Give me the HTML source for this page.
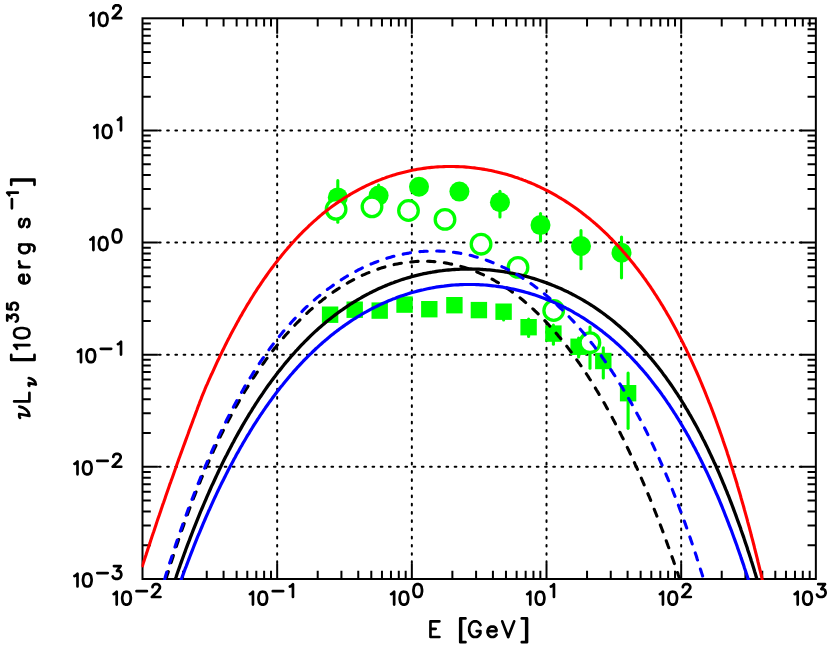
<!DOCTYPE html><html><head><meta charset="utf-8"><title>plot</title>
<style>html,body{margin:0;padding:0;background:#fff}svg{display:block}text{font-family:"Liberation Sans",sans-serif;fill:#000}</style></head><body>
<svg width="830" height="650" viewBox="0 0 830 650">
<rect width="830" height="650" fill="#fff"/>
<defs><clipPath id="c"><rect x="141.5" y="17.3" width="675.35" height="562.70"/></clipPath></defs>
<g stroke="#000" stroke-width="2" stroke-dasharray="1.7 6.515" stroke-linecap="round" fill="none">
<path d="M277.17,35.58 V564.60"/>
<path d="M158.93,130.44 H801.45"/>
<path d="M411.84,35.58 V564.60"/>
<path d="M158.93,242.58 H801.45"/>
<path d="M546.51,35.58 V564.60"/>
<path d="M158.93,354.72 H801.45"/>
<path d="M681.18,35.58 V564.60"/>
<path d="M158.93,466.86 H801.45"/>
</g>
<g fill="#00ff00" stroke="#00ff00" stroke-width="3.1">
<rect x="321.90" y="306.50" width="16.4" height="16.4" stroke="none"/>
<rect x="346.50" y="301.50" width="16.4" height="16.4" stroke="none"/>
<rect x="371.50" y="302.40" width="16.4" height="16.4" stroke="none"/>
<rect x="396.35" y="296.40" width="16.4" height="16.4" stroke="none"/>
<rect x="421.10" y="301.00" width="16.4" height="16.4" stroke="none"/>
<rect x="446.20" y="297.00" width="16.4" height="16.4" stroke="none"/>
<rect x="470.70" y="301.90" width="16.4" height="16.4" stroke="none"/>
<path d="M503.6,306.55 V319.95" stroke-linecap="round"/>
<rect x="495.40" y="303.50" width="16.4" height="16.4" stroke="none"/>
<path d="M528.6,319.15 V336.55" stroke-linecap="round"/>
<rect x="520.40" y="319.00" width="16.4" height="16.4" stroke="none"/>
<path d="M553.4,325.15 V344.15" stroke-linecap="round"/>
<rect x="545.20" y="325.40" width="16.4" height="16.4" stroke="none"/>
<path d="M578.6,338.05 V357.05" stroke-linecap="round"/>
<rect x="570.40" y="338.55" width="16.4" height="16.4" stroke="none"/>
<path d="M603.3,347.85 V377.95" stroke-linecap="round"/>
<rect x="595.10" y="352.80" width="16.4" height="16.4" stroke="none"/>
<path d="M628.1,373.05 V428.35" stroke-linecap="round"/>
<rect x="619.90" y="385.00" width="16.4" height="16.4" stroke="none"/>
<path d="M337.8,180.65 V222.25" stroke-linecap="round"/>
<circle cx="337.8" cy="197.4" r="10" stroke="none"/>
<path d="M378.6,185.15 V205.45" stroke-linecap="round"/>
<circle cx="378.6" cy="195.6" r="10" stroke="none"/>
<circle cx="419" cy="186.8" r="10" stroke="none"/>
<circle cx="459.4" cy="191.6" r="10" stroke="none"/>
<path d="M499.95,191.20 V217.05" stroke-linecap="round"/>
<circle cx="499.95" cy="202.3" r="10" stroke="none"/>
<path d="M540.5,213.45 V241.05" stroke-linecap="round"/>
<circle cx="540.5" cy="225.1" r="10" stroke="none"/>
<path d="M581.0,230.65 V268.75" stroke-linecap="round"/>
<circle cx="581.0" cy="246" r="10" stroke="none"/>
<path d="M621.5,237.05 V277.85" stroke-linecap="round"/>
<circle cx="621.5" cy="252.7" r="10" stroke="none"/>
<circle cx="336.1" cy="209.3" r="9.8" fill="#fff" stroke-width="3.3"/>
<circle cx="372" cy="206.8" r="9.8" fill="#fff" stroke-width="3.3"/>
<circle cx="408.5" cy="210.5" r="9.8" fill="#fff" stroke-width="3.3"/>
<circle cx="445" cy="219.4" r="9.8" fill="#fff" stroke-width="3.3"/>
<circle cx="481.05" cy="244.2" r="9.8" fill="#fff" stroke-width="3.3"/>
<circle cx="518" cy="267.4" r="9.8" fill="#fff" stroke-width="3.3"/>
<circle cx="553.7" cy="310.5" r="9.8" fill="#fff" stroke-width="3.3"/>
<path d="M590.0,326.95 V368.15" stroke-linecap="round"/>
<circle cx="589.9" cy="342.7" r="9.8" fill="#fff" stroke-width="3.3"/>
</g>
<g stroke="#000" stroke-width="2" fill="none">
<path d="M183.04,579.0 v-8.3 M183.04,18.3 v8.3 M142.5,545.24 h8.3 M815.85,545.24 h-8.3 M206.75,579.0 v-8.3 M206.75,18.3 v8.3 M142.5,525.50 h8.3 M815.85,525.50 h-8.3 M223.58,579.0 v-8.3 M223.58,18.3 v8.3 M142.5,511.48 h8.3 M815.85,511.48 h-8.3 M236.63,579.0 v-8.3 M236.63,18.3 v8.3 M142.5,500.62 h8.3 M815.85,500.62 h-8.3 M247.29,579.0 v-8.3 M247.29,18.3 v8.3 M142.5,491.74 h8.3 M815.85,491.74 h-8.3 M256.31,579.0 v-8.3 M256.31,18.3 v8.3 M142.5,484.23 h8.3 M815.85,484.23 h-8.3 M264.12,579.0 v-8.3 M264.12,18.3 v8.3 M142.5,477.73 h8.3 M815.85,477.73 h-8.3 M271.01,579.0 v-8.3 M271.01,18.3 v8.3 M142.5,471.99 h8.3 M815.85,471.99 h-8.3 M277.17,579.0 v-15.4 M277.17,18.3 v15.4 M142.5,466.86 h15.4 M815.85,466.86 h-15.4 M317.71,579.0 v-8.3 M317.71,18.3 v8.3 M142.5,433.10 h8.3 M815.85,433.10 h-8.3 M341.42,579.0 v-8.3 M341.42,18.3 v8.3 M142.5,413.36 h8.3 M815.85,413.36 h-8.3 M358.25,579.0 v-8.3 M358.25,18.3 v8.3 M142.5,399.34 h8.3 M815.85,399.34 h-8.3 M371.30,579.0 v-8.3 M371.30,18.3 v8.3 M142.5,388.48 h8.3 M815.85,388.48 h-8.3 M381.96,579.0 v-8.3 M381.96,18.3 v8.3 M142.5,379.60 h8.3 M815.85,379.60 h-8.3 M390.98,579.0 v-8.3 M390.98,18.3 v8.3 M142.5,372.09 h8.3 M815.85,372.09 h-8.3 M398.79,579.0 v-8.3 M398.79,18.3 v8.3 M142.5,365.59 h8.3 M815.85,365.59 h-8.3 M405.68,579.0 v-8.3 M405.68,18.3 v8.3 M142.5,359.85 h8.3 M815.85,359.85 h-8.3 M411.84,579.0 v-15.4 M411.84,18.3 v15.4 M142.5,354.72 h15.4 M815.85,354.72 h-15.4 M452.38,579.0 v-8.3 M452.38,18.3 v8.3 M142.5,320.96 h8.3 M815.85,320.96 h-8.3 M476.09,579.0 v-8.3 M476.09,18.3 v8.3 M142.5,301.22 h8.3 M815.85,301.22 h-8.3 M492.92,579.0 v-8.3 M492.92,18.3 v8.3 M142.5,287.20 h8.3 M815.85,287.20 h-8.3 M505.97,579.0 v-8.3 M505.97,18.3 v8.3 M142.5,276.34 h8.3 M815.85,276.34 h-8.3 M516.63,579.0 v-8.3 M516.63,18.3 v8.3 M142.5,267.46 h8.3 M815.85,267.46 h-8.3 M525.65,579.0 v-8.3 M525.65,18.3 v8.3 M142.5,259.95 h8.3 M815.85,259.95 h-8.3 M533.46,579.0 v-8.3 M533.46,18.3 v8.3 M142.5,253.45 h8.3 M815.85,253.45 h-8.3 M540.35,579.0 v-8.3 M540.35,18.3 v8.3 M142.5,247.71 h8.3 M815.85,247.71 h-8.3 M546.51,579.0 v-15.4 M546.51,18.3 v15.4 M142.5,242.58 h15.4 M815.85,242.58 h-15.4 M587.05,579.0 v-8.3 M587.05,18.3 v8.3 M142.5,208.82 h8.3 M815.85,208.82 h-8.3 M610.76,579.0 v-8.3 M610.76,18.3 v8.3 M142.5,189.08 h8.3 M815.85,189.08 h-8.3 M627.59,579.0 v-8.3 M627.59,18.3 v8.3 M142.5,175.06 h8.3 M815.85,175.06 h-8.3 M640.64,579.0 v-8.3 M640.64,18.3 v8.3 M142.5,164.20 h8.3 M815.85,164.20 h-8.3 M651.30,579.0 v-8.3 M651.30,18.3 v8.3 M142.5,155.32 h8.3 M815.85,155.32 h-8.3 M660.32,579.0 v-8.3 M660.32,18.3 v8.3 M142.5,147.81 h8.3 M815.85,147.81 h-8.3 M668.13,579.0 v-8.3 M668.13,18.3 v8.3 M142.5,141.31 h8.3 M815.85,141.31 h-8.3 M675.02,579.0 v-8.3 M675.02,18.3 v8.3 M142.5,135.57 h8.3 M815.85,135.57 h-8.3 M681.18,579.0 v-15.4 M681.18,18.3 v15.4 M142.5,130.44 h15.4 M815.85,130.44 h-15.4 M721.72,579.0 v-8.3 M721.72,18.3 v8.3 M142.5,96.68 h8.3 M815.85,96.68 h-8.3 M745.43,579.0 v-8.3 M745.43,18.3 v8.3 M142.5,76.94 h8.3 M815.85,76.94 h-8.3 M762.26,579.0 v-8.3 M762.26,18.3 v8.3 M142.5,62.92 h8.3 M815.85,62.92 h-8.3 M775.31,579.0 v-8.3 M775.31,18.3 v8.3 M142.5,52.06 h8.3 M815.85,52.06 h-8.3 M785.97,579.0 v-8.3 M785.97,18.3 v8.3 M142.5,43.18 h8.3 M815.85,43.18 h-8.3 M794.99,579.0 v-8.3 M794.99,18.3 v8.3 M142.5,35.67 h8.3 M815.85,35.67 h-8.3 M802.80,579.0 v-8.3 M802.80,18.3 v8.3 M142.5,29.17 h8.3 M815.85,29.17 h-8.3 M809.69,579.0 v-8.3 M809.69,18.3 v8.3 M142.5,23.43 h8.3 M815.85,23.43 h-8.3"/>
<rect x="142.5" y="18.3" width="673.35" height="560.70"/>
</g>
<g clip-path="url(#c)" fill="none" stroke-linejoin="round">
<path d="M142.0,567.2 142.7,565.1 143.3,563.1 144.0,561.1 144.6,559.1 145.3,557.0 146.0,555.0 146.6,553.0 147.3,550.9 148.0,548.8 148.7,546.8 149.4,544.7 150.1,542.6 150.7,540.5 151.4,538.4 152.1,536.3 152.8,534.2 153.6,532.0 154.3,529.9 155.0,527.8 155.7,525.7 156.4,523.6 157.1,521.4 157.8,519.3 158.5,517.2 159.3,515.1 160.0,513.0 160.7,510.9 161.4,508.8 162.1,506.7 162.8,504.6 163.6,502.5 164.3,500.5 165.0,498.4 165.7,496.3 166.4,494.3 167.1,492.2 167.8,490.2 168.5,488.2 169.2,486.2 169.9,484.1 170.7,482.1 171.4,480.1 172.1,478.2 172.8,476.2 173.5,474.2 174.2,472.2 174.9,470.3 175.6,468.3 176.2,466.4 176.9,464.4 177.6,462.5 178.3,460.6 179.0,458.6 179.7,456.7 180.4,454.8 181.1,452.9 181.8,451.0 182.7,448.5 183.6,446.0 184.5,443.6 185.4,441.1 186.3,438.6 187.2,436.2 188.1,433.8 188.9,431.4 189.8,429.0 190.7,426.6 191.6,424.2 192.5,421.9 193.3,419.5 194.2,417.2 195.1,414.9 195.9,412.6 196.8,410.3 197.6,408.0 198.4,405.8 199.3,403.6 200.1,401.3 201.0,399.1 201.8,396.9 202.7,394.7 203.6,392.6 204.5,390.4 205.3,388.3 206.2,386.2 207.2,384.1 208.1,382.0 209.0,379.9 209.9,377.9 210.8,375.8 211.8,373.8 212.7,371.8 213.6,369.8 214.5,367.8 215.4,365.8 216.3,363.8 217.2,361.9 218.1,360.0 219.1,358.1 219.9,356.1 220.9,354.3 221.8,352.4 222.7,350.5 223.6,348.7 224.5,346.8 225.4,345.0 226.3,343.2 227.2,341.4 228.3,339.2 229.5,337.0 230.6,334.8 231.8,332.6 232.9,330.5 234.0,328.4 235.2,326.3 236.3,324.2 237.4,322.1 238.6,320.1 239.7,318.1 240.8,316.1 242.0,314.1 243.1,312.1 244.2,310.2 245.4,308.2 246.5,306.3 247.6,304.4 248.8,302.6 249.9,300.7 251.0,298.9 252.2,297.0 253.3,295.2 254.4,293.4 255.6,291.7 256.7,289.9 257.8,288.2 259.0,286.5 260.1,284.8 261.2,283.1 262.4,281.4 263.7,279.4 265.1,277.5 266.5,275.5 267.8,273.6 269.2,271.7 270.5,269.9 271.9,268.0 273.3,266.2 274.6,264.4 276.0,262.6 277.4,260.9 278.7,259.1 280.1,257.4 281.4,255.8 282.8,254.1 284.1,252.4 285.5,250.8 286.9,249.2 288.2,247.6 289.6,246.1 291.0,244.5 292.3,243.0 293.7,241.5 295.0,240.0 296.6,238.3 298.2,236.6 299.8,234.9 301.4,233.3 303.0,231.7 304.6,230.1 306.2,228.6 307.8,227.1 309.3,225.5 310.9,224.1 312.5,222.6 314.1,221.2 315.7,219.8 317.3,218.4 318.9,217.0 320.4,215.7 322.0,214.3 323.6,213.0 325.2,211.8 326.8,210.5 328.4,209.3 330.2,207.9 332.0,206.5 333.8,205.2 335.6,203.9 337.5,202.6 339.3,201.4 341.1,200.2 342.9,199.0 344.7,197.8 346.5,196.7 348.4,195.6 350.2,194.4 352.0,193.4 353.8,192.3 355.6,191.3 357.4,190.3 359.2,189.3 361.1,188.4 362.9,187.5 364.7,186.6 366.5,185.7 368.3,184.8 370.4,183.9 372.4,183.0 374.4,182.1 376.5,181.2 378.5,180.4 380.6,179.6 382.6,178.8 384.6,178.1 386.7,177.3 388.7,176.6 390.8,175.9 392.8,175.3 394.9,174.7 396.9,174.1 398.9,173.5 401.0,172.9 403.0,172.4 405.1,171.9 407.1,171.4 409.1,170.9 411.2,170.5 413.2,170.1 415.3,169.7 417.3,169.3 419.4,169.0 421.4,168.7 423.4,168.4 425.5,168.1 427.5,167.8 429.6,167.6 431.6,167.4 433.6,167.2 435.7,167.0 437.7,166.9 439.8,166.8 441.8,166.7 443.9,166.6 445.9,166.5 447.9,166.5 450.0,166.5 452.0,166.5 454.1,166.5 456.1,166.6 458.1,166.6 460.2,166.7 462.2,166.8 464.3,166.9 466.3,167.1 468.4,167.3 470.4,167.5 472.4,167.7 474.5,167.9 476.5,168.2 478.6,168.5 480.6,168.8 482.6,169.1 484.7,169.4 486.7,169.8 488.8,170.2 490.8,170.6 492.9,171.0 494.9,171.5 496.9,171.9 499.0,172.4 501.0,172.9 503.1,173.5 505.1,174.0 507.1,174.6 509.2,175.2 511.2,175.8 513.3,176.5 515.3,177.2 517.4,177.8 519.4,178.6 521.4,179.3 523.5,180.1 525.5,180.8 527.6,181.7 529.6,182.5 531.6,183.3 533.7,184.2 535.7,185.1 537.5,186.0 539.6,186.9 541.4,187.8 543.2,188.7 545.0,189.6 546.9,190.5 548.7,191.4 550.5,192.4 552.3,193.4 554.1,194.4 555.9,195.4 557.7,196.5 559.5,197.6 561.4,198.7 563.2,199.8 565.0,200.9 566.8,202.1 568.6,203.3 570.4,204.5 572.3,205.8 574.1,207.0 575.9,208.3 577.7,209.6 579.5,210.9 581.3,212.3 583.1,213.7 584.7,214.9 586.3,216.2 587.9,217.4 589.5,218.7 591.1,220.1 592.7,221.4 594.3,222.8 595.9,224.1 597.4,225.5 599.0,226.9 600.6,228.4 602.2,229.9 603.8,231.3 605.4,232.9 607.0,234.4 608.6,236.0 610.1,237.6 611.7,239.2 613.3,240.8 614.9,242.5 616.5,244.1 617.9,245.6 619.2,247.1 620.6,248.6 621.9,250.1 623.3,251.7 624.7,253.2 626.0,254.8 627.4,256.4 628.8,258.0 630.1,259.7 631.5,261.4 632.8,263.0 634.2,264.8 635.5,266.5 636.9,268.2 638.3,270.0 639.6,271.8 641.0,273.6 642.4,275.5 643.7,277.4 645.1,279.2 646.4,281.2 647.8,283.1 649.2,285.1 650.3,286.7 651.4,288.4 652.6,290.1 653.7,291.8 654.8,293.6 656.0,295.3 657.1,297.1 658.2,298.9 659.4,300.7 660.5,302.5 661.6,304.4 662.8,306.2 663.9,308.1 665.0,310.0 666.2,311.9 667.3,313.9 668.4,315.8 669.6,317.8 670.7,319.8 671.9,321.9 673.0,323.9 674.1,326.0 675.2,328.1 676.4,330.2 677.5,332.4 678.6,334.5 679.8,336.7 680.9,338.9 681.8,340.7 682.7,342.5 683.6,344.3 684.5,346.2 685.5,348.0 686.4,349.9 687.3,351.8 688.2,353.6 689.1,355.6 690.0,357.5 690.9,359.4 691.8,361.4 692.7,363.4 693.6,365.4 694.5,367.4 695.4,369.4 696.4,371.5 697.3,373.5 698.2,375.6 699.1,377.7 700.0,379.8 700.9,382.0 701.8,384.1 702.7,386.3 703.6,388.5 704.5,390.7 705.4,392.9 706.3,395.2 707.2,397.5 708.1,399.8 709.0,402.1 710.0,404.4 710.9,406.8 711.8,409.1 712.7,411.5 713.6,413.9 714.5,416.4 715.4,418.8 716.3,421.3 717.2,423.8 717.9,425.7 718.6,427.6 719.3,429.5 719.9,431.4 720.6,433.3 721.3,435.3 722.0,437.2 722.7,439.2 723.3,441.2 724.0,443.2 724.7,445.2 725.4,447.2 726.1,449.3 726.8,451.3 727.4,453.4 728.1,455.5 728.8,457.6 729.5,459.7 730.1,461.8 730.8,463.9 731.5,466.1 732.2,468.3 732.9,470.4 733.5,472.6 734.2,474.8 734.9,477.1 735.6,479.3 736.3,481.5 737.0,483.8 737.6,486.1 738.3,488.4 739.0,490.7 739.7,493.0 740.4,495.4 741.0,497.7 741.7,500.1 742.4,502.5 743.1,504.9 743.8,507.3 744.4,509.7 745.1,512.2 745.8,514.6 746.5,517.1 747.2,519.6 747.8,522.1 748.5,524.7 749.2,527.2 749.9,529.8 750.6,532.4 751.2,535.0 751.9,537.6 752.6,540.2 753.3,542.9 754.0,545.5 754.6,548.2 755.3,550.9 756.0,553.6 756.7,556.4 757.4,559.1 758.0,561.9 758.7,564.7 759.4,567.5 760.1,570.4 760.8,573.2 761.5,576.1 762.1,579.0 762.8,581.9 763.5,584.8 764.0,586.8" stroke="#ff0000" stroke-width="3.1"/>
<path d="M172.8,586.7 173.4,584.7 174.1,582.7 174.8,580.7 175.5,578.7 176.2,576.7 176.8,574.7 177.5,572.7 178.2,570.8 178.9,568.8 179.6,566.9 180.2,565.0 180.9,563.1 181.6,561.1 182.3,559.2 183.2,556.7 184.1,554.2 185.0,551.8 185.9,549.3 186.8,546.9 187.7,544.4 188.7,542.0 189.6,539.6 190.5,537.2 191.4,534.9 192.3,532.5 193.2,530.2 194.1,527.9 195.0,525.6 195.9,523.3 196.8,521.1 197.7,518.8 198.6,516.6 199.5,514.4 200.4,512.2 201.3,510.0 202.3,507.8 203.2,505.7 204.1,503.5 205.0,501.4 205.9,499.3 206.8,497.2 207.7,495.1 208.6,493.1 209.5,491.0 210.4,489.0 211.3,486.9 212.2,484.9 213.2,482.9 214.1,481.0 215.0,479.0 215.9,477.0 216.8,475.1 217.7,473.2 218.6,471.3 219.5,469.4 220.4,467.5 221.3,465.6 222.2,463.8 223.1,461.9 224.0,460.1 224.9,458.3 225.8,456.5 226.8,454.7 227.9,452.5 229.0,450.3 230.2,448.1 231.3,445.9 232.4,443.8 233.6,441.7 234.7,439.6 235.8,437.5 237.0,435.4 238.1,433.4 239.2,431.4 240.4,429.4 241.5,427.4 242.6,425.4 243.8,423.4 244.9,421.5 246.0,419.6 247.2,417.7 248.3,415.8 249.4,413.9 250.6,412.1 251.7,410.3 252.8,408.4 254.0,406.7 255.1,404.9 256.2,403.1 257.4,401.4 258.5,399.6 259.6,397.9 260.8,396.2 261.9,394.6 263.1,392.9 264.4,390.9 265.8,388.9 267.1,387.0 268.5,385.1 269.9,383.2 271.2,381.4 272.6,379.5 273.9,377.7 275.3,375.9 276.7,374.1 278.0,372.3 279.4,370.6 280.8,368.9 282.1,367.2 283.5,365.5 284.8,363.8 286.2,362.2 287.6,360.6 288.9,359.0 290.3,357.4 291.6,355.8 293.0,354.3 294.4,352.8 295.7,351.2 297.1,349.8 298.4,348.3 300.0,346.6 301.6,344.9 303.2,343.3 304.8,341.7 306.4,340.1 308.0,338.5 309.6,336.9 311.1,335.4 312.7,333.9 314.3,332.4 315.9,330.9 317.5,329.5 319.1,328.1 320.7,326.7 322.3,325.3 323.9,324.0 325.4,322.6 327.0,321.3 328.6,320.0 330.2,318.8 331.8,317.5 333.4,316.3 335.2,314.9 337.0,313.5 338.8,312.2 340.6,310.9 342.5,309.6 344.3,308.3 346.1,307.1 347.9,305.9 349.7,304.7 351.5,303.5 353.3,302.4 355.2,301.3 357.0,300.2 358.8,299.1 360.6,298.1 362.4,297.0 364.2,296.0 366.1,295.0 367.9,294.1 369.7,293.1 371.5,292.2 373.3,291.3 375.1,290.4 376.9,289.6 379.0,288.6 381.0,287.7 383.1,286.8 385.1,285.9 387.1,285.1 389.2,284.2 391.2,283.4 393.3,282.7 395.3,281.9 397.4,281.2 399.4,280.5 401.4,279.8 403.5,279.1 405.5,278.5 407.6,277.9 409.6,277.3 411.6,276.7 413.7,276.2 415.7,275.6 417.8,275.1 419.8,274.6 421.9,274.2 423.9,273.7 425.9,273.3 428.0,272.9 430.0,272.5 432.1,272.2 434.1,271.8 436.1,271.5 438.2,271.2 440.2,270.9 442.3,270.7 444.3,270.4 446.4,270.2 448.4,270.0 450.4,269.8 452.5,269.6 454.5,269.5 456.6,269.4 458.6,269.3 460.6,269.2 462.7,269.1 464.7,269.1 466.8,269.0 468.8,269.0 470.9,269.0 472.9,269.1 474.9,269.1 477.0,269.2 479.0,269.2 481.1,269.3 483.1,269.5 485.1,269.6 487.2,269.8 489.2,269.9 491.3,270.1 493.3,270.3 495.4,270.6 497.4,270.8 499.4,271.1 501.5,271.4 503.5,271.7 505.6,272.0 507.6,272.4 509.6,272.8 511.7,273.1 513.7,273.5 515.8,274.0 517.8,274.4 519.9,274.9 521.9,275.4 523.9,275.9 526.0,276.4 528.0,276.9 530.1,277.5 532.1,278.1 534.1,278.7 536.2,279.3 538.2,280.0 540.3,280.7 542.3,281.4 544.4,282.1 546.4,282.8 548.4,283.6 550.5,284.4 552.5,285.2 554.6,286.0 556.6,286.9 558.6,287.7 560.7,288.6 562.7,289.6 564.5,290.4 566.4,291.3 568.2,292.1 570.0,293.1 571.8,294.0 573.6,294.9 575.4,295.9 577.2,296.9 579.1,297.9 580.9,298.9 582.7,299.9 584.5,301.0 586.3,302.1 588.1,303.2 590.0,304.4 591.8,305.5 593.6,306.7 595.4,307.9 597.2,309.1 599.0,310.4 600.8,311.7 602.7,313.0 604.5,314.3 606.3,315.7 608.1,317.1 609.7,318.3 611.3,319.5 612.9,320.8 614.5,322.1 616.0,323.4 617.6,324.8 619.2,326.1 620.8,327.5 622.4,328.9 624.0,330.3 625.6,331.8 627.2,333.3 628.8,334.8 630.3,336.3 631.9,337.8 633.5,339.4 635.1,341.0 636.7,342.6 638.3,344.3 639.9,345.9 641.5,347.7 642.8,349.1 644.2,350.6 645.5,352.2 646.9,353.7 648.2,355.3 649.6,356.8 651.0,358.4 652.3,360.1 653.7,361.7 655.1,363.4 656.4,365.1 657.8,366.8 659.1,368.5 660.5,370.3 661.9,372.1 663.2,373.9 664.6,375.7 666.0,377.6 667.3,379.5 668.7,381.4 670.0,383.3 671.4,385.3 672.5,386.9 673.7,388.6 674.8,390.3 675.9,392.0 677.1,393.7 678.2,395.5 679.3,397.2 680.5,399.0 681.6,400.8 682.7,402.7 683.9,404.5 685.0,406.4 686.1,408.3 687.3,410.2 688.4,412.1 689.5,414.1 690.7,416.0 691.8,418.0 692.9,420.0 694.1,422.1 695.2,424.1 696.4,426.2 697.5,428.3 698.6,430.5 699.8,432.6 700.9,434.8 702.0,437.0 703.1,439.2 704.1,441.0 705.0,442.8 705.9,444.7 706.8,446.5 707.7,448.4 708.6,450.3 709.5,452.2 710.4,454.1 711.3,456.0 712.2,458.0 713.1,459.9 714.0,461.9 715.0,463.9 715.9,465.9 716.8,468.0 717.7,470.0 718.6,472.1 719.5,474.2 720.4,476.3 721.3,478.4 722.2,480.6 723.1,482.8 724.0,484.9 724.9,487.1 725.8,489.4 726.8,491.6 727.6,493.9 728.6,496.2 729.5,498.5 730.4,500.8 731.3,503.1 732.2,505.5 733.1,507.9 734.0,510.3 734.9,512.8 735.8,515.2 736.7,517.7 737.6,520.2 738.3,522.1 739.0,524.0 739.7,525.9 740.4,527.8 741.0,529.8 741.7,531.7 742.4,533.7 743.1,535.6 743.8,537.6 744.4,539.6 745.1,541.7 745.8,543.7 746.5,545.8 747.2,547.8 747.8,549.9 748.5,552.0 749.2,554.1 749.9,556.2 750.6,558.3 751.2,560.5 751.9,562.6 752.6,564.8 753.3,567.0 754.0,569.2 754.6,571.4 755.3,573.6 756.0,575.9 756.7,578.2 757.4,580.4 758.0,582.7 758.7,585.0 759.2,586.6" stroke="#000" stroke-width="3.3"/>
<path d="M163.9,586.3 164.6,584.0 165.3,581.7 166.0,579.4 166.6,577.1 167.3,574.9 168.0,572.7 168.7,570.5 169.4,568.3 170.1,566.1 170.7,563.9 171.4,561.8 172.1,559.6 172.8,557.5 173.4,555.4 174.1,553.2 174.8,551.1 175.5,549.1 176.2,547.0 176.8,545.0 177.5,542.9 178.2,540.9 178.9,538.9 179.6,536.9 180.2,534.9 180.9,532.9 181.6,530.9 182.3,529.0 183.0,527.0 183.7,525.1 184.3,523.2 185.0,521.2 185.7,519.4 186.4,517.5 187.3,515.0 188.2,512.5 189.1,510.0 190.0,507.6 190.9,505.2 191.8,502.8 192.7,500.4 193.6,498.0 194.6,495.7 195.4,493.4 196.4,491.1 197.3,488.8 198.2,486.5 199.1,484.3 200.0,482.1 200.9,479.8 201.8,477.6 202.7,475.5 203.6,473.3 204.5,471.2 205.4,469.1 206.3,466.9 207.2,464.9 208.2,462.8 209.1,460.7 210.0,458.7 210.9,456.7 211.8,454.6 212.7,452.7 213.6,450.7 214.5,448.7 215.4,446.8 216.3,444.8 217.2,442.9 218.1,441.0 219.1,439.1 219.9,437.3 220.9,435.4 221.8,433.6 222.7,431.8 223.6,429.9 224.5,428.2 225.6,425.9 226.8,423.7 227.9,421.6 229.0,419.4 230.2,417.3 231.3,415.1 232.4,413.1 233.6,411.0 234.7,408.9 235.8,406.9 237.0,404.9 238.1,402.9 239.2,400.9 240.4,399.0 241.5,397.0 242.6,395.1 243.8,393.2 244.9,391.3 246.0,389.5 247.2,387.6 248.3,385.8 249.4,384.0 250.6,382.2 251.7,380.5 252.8,378.7 254.0,377.0 255.1,375.3 256.2,373.6 257.4,371.9 258.5,370.2 259.9,368.2 261.2,366.3 262.6,364.4 264.0,362.5 265.3,360.6 266.7,358.7 268.1,356.9 269.4,355.1 270.8,353.3 272.1,351.5 273.5,349.8 274.9,348.1 276.2,346.4 277.6,344.7 278.9,343.0 280.3,341.4 281.7,339.8 283.0,338.2 284.4,336.6 285.7,335.0 287.1,333.5 288.5,332.0 289.8,330.5 291.2,329.0 292.8,327.3 294.4,325.6 295.9,324.0 297.5,322.4 299.1,320.8 300.7,319.2 302.3,317.6 303.9,316.1 305.5,314.6 307.1,313.1 308.6,311.7 310.2,310.2 311.8,308.8 313.4,307.5 315.0,306.1 316.6,304.8 318.2,303.4 319.8,302.1 321.4,300.9 322.9,299.6 324.5,298.4 326.4,297.0 328.2,295.7 330.0,294.4 331.8,293.1 333.6,291.8 335.4,290.6 337.2,289.4 339.1,288.2 340.9,287.1 342.7,285.9 344.5,284.8 346.3,283.8 348.1,282.7 349.9,281.7 351.8,280.7 353.6,279.7 355.4,278.8 357.2,277.9 359.0,277.0 360.8,276.1 362.6,275.2 364.7,274.3 366.7,273.4 368.8,272.6 370.8,271.8 372.9,271.0 374.9,270.2 376.9,269.5 379.0,268.8 381.0,268.1 383.1,267.5 385.1,266.9 387.1,266.3 389.2,265.8 391.2,265.3 393.3,264.8 395.3,264.3 397.4,263.9 399.4,263.5 401.4,263.2 403.5,262.9 405.5,262.6 407.6,262.3 409.6,262.1 411.6,261.9 413.7,261.7 415.7,261.5 417.8,261.4 419.8,261.3 421.9,261.3 423.9,261.3 425.9,261.3 428.0,261.3 430.0,261.4 432.1,261.5 434.1,261.6 436.1,261.8 438.2,262.0 440.2,262.2 442.3,262.5 444.3,262.8 446.4,263.1 448.4,263.5 450.4,263.9 452.5,264.3 454.5,264.8 456.6,265.2 458.6,265.8 460.6,266.3 462.7,266.9 464.7,267.5 466.8,268.2 468.8,268.9 470.9,269.6 472.9,270.4 474.9,271.2 477.0,272.0 479.0,272.9 481.1,273.8 483.1,274.7 484.9,275.5 486.7,276.4 488.6,277.3 490.4,278.3 492.2,279.2 494.0,280.2 495.8,281.3 497.6,282.3 499.4,283.4 501.2,284.5 503.1,285.7 504.9,286.9 506.7,288.1 508.5,289.3 510.3,290.6 512.1,291.9 514.0,293.2 515.8,294.6 517.6,295.9 519.2,297.2 520.8,298.4 522.4,299.7 523.9,301.0 525.5,302.4 527.1,303.8 528.7,305.1 530.3,306.6 531.9,308.0 533.5,309.4 535.0,310.9 536.6,312.4 538.2,314.0 539.8,315.6 541.4,317.1 543.0,318.8 544.6,320.4 546.2,322.1 547.8,323.8 549.1,325.3 550.5,326.8 551.8,328.3 553.2,329.8 554.6,331.4 555.9,332.9 557.3,334.6 558.6,336.2 560.0,337.8 561.4,339.5 562.7,341.1 564.1,342.9 565.5,344.6 566.8,346.3 568.2,348.1 569.5,349.9 570.9,351.7 572.3,353.5 573.6,355.4 575.0,357.2 576.3,359.1 577.7,361.1 579.1,363.0 580.4,365.0 581.8,366.9 582.9,368.6 584.0,370.3 585.2,372.0 586.3,373.7 587.5,375.5 588.6,377.2 589.7,379.0 590.9,380.8 592.0,382.6 593.1,384.4 594.3,386.2 595.4,388.1 596.5,390.0 597.7,391.9 598.8,393.8 599.9,395.7 601.1,397.6 602.2,399.6 603.3,401.5 604.5,403.5 605.6,405.5 606.7,407.6 607.9,409.6 609.0,411.7 610.1,413.7 611.3,415.8 612.4,417.9 613.5,420.1 614.7,422.2 615.8,424.4 617.0,426.6 618.1,428.8 619.2,431.0 620.1,432.8 621.0,434.6 621.9,436.4 622.9,438.2 623.8,440.1 624.7,441.9 625.6,443.8 626.5,445.7 627.4,447.6 628.3,449.5 629.2,451.4 630.1,453.3 631.0,455.2 631.9,457.2 632.8,459.2 633.7,461.1 634.6,463.1 635.5,465.1 636.5,467.1 637.4,469.2 638.3,471.2 639.2,473.3 640.1,475.3 641.0,477.4 641.9,479.5 642.8,481.6 643.7,483.7 644.6,485.9 645.5,488.0 646.4,490.2 647.4,492.3 648.2,494.5 649.2,496.7 650.1,498.9 651.0,501.2 651.9,503.4 652.8,505.7 653.7,507.9 654.6,510.2 655.5,512.5 656.4,514.8 657.3,517.1 658.2,519.5 659.1,521.8 660.0,524.2 661.0,526.6 661.9,529.0 662.8,531.4 663.7,533.8 664.6,536.3 665.5,538.7 666.4,541.2 667.3,543.7 668.2,546.2 668.9,548.0 669.6,549.9 670.3,551.8 670.9,553.8 671.6,555.7 672.3,557.6 673.0,559.5 673.7,561.5 674.3,563.4 675.0,565.4 675.7,567.4 676.4,569.3 677.1,571.3 677.8,573.3 678.4,575.3 679.1,577.3 679.8,579.3 680.5,581.4 681.1,583.4 681.8,585.5 682.3,586.8" stroke="#000" stroke-width="3.1" stroke-dasharray="7.4 9.47" stroke-linecap="round" stroke-dashoffset="-7.9"/>
<path d="M178.7,586.7 179.3,584.8 180.0,582.9 180.9,580.4 181.6,578.5 182.5,576.1 183.4,573.6 184.3,571.1 185.2,568.7 186.2,566.3 187.1,563.9 188.0,561.5 188.9,559.1 189.8,556.7 190.7,554.4 191.6,552.1 192.5,549.8 193.4,547.5 194.3,545.2 195.2,542.9 196.1,540.6 197.0,538.4 197.9,536.2 198.9,534.0 199.8,531.8 200.7,529.6 201.6,527.5 202.5,525.3 203.4,523.2 204.3,521.1 205.2,519.0 206.1,516.9 207.0,514.8 207.9,512.8 208.8,510.7 209.8,508.7 210.7,506.7 211.6,504.7 212.5,502.7 213.4,500.7 214.3,498.7 215.2,496.8 216.1,494.9 217.0,492.9 217.9,491.0 218.8,489.1 219.7,487.2 220.6,485.4 221.5,483.5 222.4,481.7 223.4,479.9 224.3,478.0 225.2,476.2 226.1,474.4 227.2,472.2 228.3,470.0 229.5,467.8 230.6,465.7 231.8,463.5 232.9,461.4 234.0,459.3 235.2,457.2 236.3,455.1 237.4,453.1 238.6,451.1 239.7,449.0 240.8,447.0 242.0,445.1 243.1,443.1 244.2,441.2 245.4,439.2 246.5,437.3 247.6,435.4 248.8,433.6 249.9,431.7 251.0,429.9 252.2,428.0 253.3,426.2 254.4,424.4 255.6,422.6 256.7,420.9 257.8,419.1 259.0,417.4 260.1,415.7 261.2,414.0 262.4,412.3 263.5,410.7 264.9,408.7 266.2,406.7 267.6,404.8 268.9,402.9 270.3,401.0 271.7,399.1 273.0,397.3 274.4,395.4 275.8,393.6 277.1,391.8 278.5,390.1 279.8,388.3 281.2,386.6 282.6,384.9 283.9,383.2 285.3,381.5 286.6,379.9 288.0,378.2 289.4,376.6 290.7,375.0 292.1,373.5 293.4,371.9 294.8,370.4 296.2,368.9 297.5,367.3 298.9,365.9 300.3,364.4 301.9,362.7 303.4,361.0 305.0,359.4 306.6,357.8 308.2,356.2 309.8,354.6 311.4,353.1 313.0,351.5 314.6,350.0 316.1,348.5 317.7,347.1 319.3,345.6 320.9,344.2 322.5,342.8 324.1,341.4 325.7,340.1 327.3,338.7 328.8,337.4 330.4,336.1 332.0,334.8 333.6,333.6 335.2,332.3 337.0,330.9 338.8,329.6 340.6,328.2 342.5,326.9 344.3,325.6 346.1,324.3 347.9,323.1 349.7,321.9 351.5,320.7 353.3,319.5 355.2,318.3 357.0,317.2 358.8,316.1 360.6,315.0 362.4,313.9 364.2,312.9 366.1,311.9 367.9,310.9 369.7,309.9 371.5,308.9 373.3,308.0 375.1,307.1 376.9,306.2 378.8,305.3 380.6,304.4 382.6,303.5 384.6,302.6 386.7,301.7 388.7,300.8 390.8,300.0 392.8,299.1 394.9,298.4 396.9,297.6 398.9,296.8 401.0,296.1 403.0,295.4 405.1,294.7 407.1,294.1 409.1,293.4 411.2,292.8 413.2,292.3 415.3,291.7 417.3,291.1 419.4,290.6 421.4,290.1 423.4,289.7 425.5,289.2 427.5,288.8 429.6,288.4 431.6,288.0 433.6,287.6 435.7,287.2 437.7,286.9 439.8,286.6 441.8,286.3 443.9,286.1 445.9,285.8 447.9,285.6 450.0,285.4 452.0,285.2 454.1,285.0 456.1,284.9 458.1,284.8 460.2,284.7 462.2,284.6 464.3,284.5 466.3,284.5 468.4,284.5 470.4,284.5 472.4,284.5 474.5,284.5 476.5,284.6 478.6,284.7 480.6,284.8 482.6,284.9 484.7,285.0 486.7,285.2 488.8,285.4 490.8,285.6 492.9,285.8 494.9,286.0 496.9,286.3 499.0,286.6 501.0,286.9 503.1,287.2 505.1,287.6 507.1,287.9 509.2,288.3 511.2,288.7 513.3,289.1 515.3,289.6 517.4,290.1 519.4,290.6 521.4,291.1 523.5,291.6 525.5,292.2 527.6,292.8 529.6,293.4 531.6,294.0 533.7,294.6 535.7,295.3 537.8,296.0 539.8,296.7 541.9,297.5 543.9,298.2 545.9,299.0 548.0,299.9 550.0,300.7 552.1,301.6 554.1,302.4 556.1,303.4 558.0,304.2 560.0,305.1 561.8,306.0 563.6,306.9 565.5,307.8 567.3,308.8 569.1,309.7 570.9,310.7 572.7,311.7 574.5,312.8 576.3,313.8 578.2,314.9 580.0,316.0 581.8,317.1 583.6,318.2 585.4,319.4 587.2,320.6 589.0,321.8 590.9,323.0 592.7,324.3 594.5,325.6 596.3,326.9 598.1,328.2 599.9,329.6 601.8,330.9 603.3,332.2 604.9,333.4 606.5,334.7 608.1,336.0 609.7,337.3 611.3,338.7 612.9,340.0 614.5,341.4 616.0,342.8 617.6,344.2 619.2,345.7 620.8,347.2 622.4,348.7 624.0,350.2 625.6,351.8 627.2,353.3 628.8,354.9 630.3,356.5 631.9,358.2 633.5,359.9 635.1,361.6 636.5,363.0 637.8,364.5 639.2,366.1 640.5,367.6 641.9,369.1 643.3,370.7 644.6,372.3 646.0,373.9 647.4,375.6 648.7,377.2 650.1,378.9 651.4,380.6 652.8,382.4 654.1,384.1 655.5,385.9 656.9,387.7 658.2,389.5 659.6,391.3 661.0,393.2 662.3,395.1 663.7,397.0 665.0,398.9 666.4,400.9 667.5,402.6 668.7,404.2 669.8,405.9 670.9,407.6 672.1,409.4 673.2,411.1 674.3,412.9 675.5,414.7 676.6,416.5 677.8,418.3 678.9,420.1 680.0,422.0 681.1,423.9 682.3,425.8 683.4,427.7 684.5,429.6 685.7,431.6 686.8,433.6 688.0,435.6 689.1,437.6 690.2,439.7 691.4,441.7 692.5,443.8 693.6,445.9 694.8,448.1 695.9,450.2 697.0,452.4 698.2,454.6 699.3,456.9 700.2,458.6 701.1,460.5 702.0,462.3 702.9,464.1 703.8,466.0 704.7,467.9 705.6,469.8 706.6,471.7 707.5,473.6 708.4,475.6 709.3,477.5 710.2,479.5 711.1,481.5 712.0,483.5 712.9,485.5 713.8,487.6 714.7,489.6 715.6,491.7 716.5,493.8 717.5,495.9 718.4,498.0 719.3,500.2 720.2,502.4 721.1,504.5 722.0,506.7 722.9,509.0 723.8,511.2 724.7,513.5 725.6,515.8 726.5,518.0 727.4,520.4 728.3,522.7 729.2,525.1 730.1,527.4 731.1,529.8 732.0,532.3 732.9,534.7 733.8,537.2 734.7,539.6 735.6,542.1 736.3,544.0 737.0,545.9 737.6,547.9 738.3,549.8 739.0,551.7 739.7,553.7 740.4,555.6 741.0,557.6 741.7,559.6 742.4,561.6 743.1,563.6 743.8,565.6 744.4,567.7 745.1,569.7 745.8,571.8 746.5,573.9 747.2,576.0 747.8,578.1 748.5,580.2 749.2,582.4 749.9,584.5 750.6,586.7" stroke="#0000ff" stroke-width="3.2"/>
<path d="M162.3,586.7 163.0,584.4 163.7,582.1 164.4,579.9 165.1,577.7 165.7,575.5 166.4,573.3 167.1,571.2 167.8,569.0 168.5,566.9 169.1,564.7 169.8,562.6 170.5,560.5 171.2,558.4 171.9,556.3 172.5,554.3 173.2,552.2 173.9,550.1 174.6,548.1 175.3,546.1 175.9,544.0 176.6,542.0 177.3,540.0 178.0,538.0 178.7,536.1 179.3,534.1 180.0,532.1 180.7,530.2 181.4,528.2 182.1,526.3 182.8,524.4 183.4,522.5 184.1,520.6 184.8,518.7 185.7,516.2 186.6,513.7 187.5,511.2 188.4,508.8 189.3,506.4 190.2,504.0 191.1,501.6 192.1,499.2 193.0,496.8 193.9,494.5 194.8,492.1 195.7,489.8 196.6,487.5 197.5,485.2 198.4,483.0 199.3,480.7 200.2,478.5 201.1,476.3 202.0,474.1 202.9,471.9 203.8,469.7 204.8,467.6 205.7,465.4 206.6,463.3 207.5,461.2 208.4,459.1 209.3,457.0 210.2,454.9 211.1,452.9 212.0,450.9 212.9,448.8 213.8,446.8 214.7,444.9 215.6,442.9 216.6,440.9 217.5,439.0 218.4,437.0 219.3,435.1 220.2,433.2 221.1,431.3 222.0,429.4 222.9,427.6 223.8,425.7 224.7,423.9 225.6,422.1 226.5,420.3 227.4,418.5 228.6,416.2 229.7,414.1 230.8,411.9 232.0,409.7 233.1,407.6 234.2,405.4 235.4,403.3 236.5,401.3 237.7,399.2 238.8,397.2 239.9,395.1 241.1,393.1 242.2,391.2 243.3,389.2 244.4,387.2 245.6,385.3 246.7,383.4 247.9,381.5 249.0,379.7 250.1,377.8 251.3,376.0 252.4,374.2 253.5,372.4 254.7,370.6 255.8,368.9 256.9,367.1 258.1,365.4 259.2,363.7 260.3,362.0 261.5,360.3 262.8,358.4 264.2,356.4 265.6,354.5 266.9,352.6 268.3,350.7 269.6,348.9 271.0,347.0 272.4,345.2 273.7,343.4 275.1,341.7 276.4,339.9 277.8,338.2 279.2,336.6 280.5,334.9 281.9,333.2 283.2,331.6 284.6,330.0 286.0,328.4 287.3,326.9 288.7,325.3 290.1,323.8 291.4,322.3 292.8,320.8 294.1,319.4 295.7,317.7 297.3,316.1 298.9,314.4 300.5,312.8 302.1,311.3 303.7,309.7 305.2,308.2 306.8,306.7 308.4,305.2 310.0,303.8 311.6,302.4 313.2,301.0 314.8,299.6 316.4,298.2 317.9,296.9 319.5,295.6 321.1,294.3 322.7,293.0 324.3,291.8 326.1,290.4 327.9,289.0 329.8,287.7 331.6,286.4 333.4,285.1 335.2,283.8 337.0,282.6 338.8,281.4 340.6,280.2 342.5,279.0 344.3,277.9 346.1,276.8 347.9,275.7 349.7,274.6 351.5,273.6 353.3,272.6 355.2,271.6 357.0,270.7 358.8,269.7 360.6,268.8 362.4,267.9 364.2,267.1 366.1,266.2 368.1,265.3 370.1,264.4 372.2,263.6 374.2,262.8 376.3,262.0 378.3,261.2 380.3,260.5 382.4,259.8 384.4,259.1 386.5,258.4 388.5,257.8 390.6,257.2 392.6,256.6 394.6,256.1 396.7,255.6 398.7,255.1 400.8,254.6 402.8,254.2 404.8,253.8 406.9,253.4 408.9,253.1 411.0,252.7 413.0,252.4 415.1,252.2 417.1,251.9 419.1,251.7 421.2,251.5 423.2,251.4 425.3,251.2 427.3,251.2 429.3,251.1 431.4,251.0 433.4,251.0 435.5,251.0 437.5,251.0 439.6,251.1 441.6,251.2 443.6,251.3 445.7,251.4 447.7,251.6 449.8,251.8 451.8,252.0 453.8,252.3 455.9,252.6 457.9,252.9 460.0,253.2 462.0,253.6 464.1,254.0 466.1,254.4 468.1,254.8 470.2,255.3 472.2,255.8 474.3,256.4 476.3,256.9 478.3,257.5 480.4,258.2 482.4,258.8 484.5,259.5 486.5,260.2 488.6,261.0 490.6,261.8 492.6,262.6 494.7,263.4 496.7,264.3 498.8,265.2 500.8,266.1 502.8,267.1 504.7,267.9 506.5,268.9 508.3,269.8 510.1,270.8 511.9,271.7 513.7,272.7 515.5,273.8 517.4,274.8 519.2,275.9 521.0,277.0 522.8,278.2 524.6,279.4 526.4,280.6 528.2,281.8 530.1,283.0 531.9,284.3 533.7,285.6 535.5,286.9 537.3,288.3 539.1,289.7 540.7,290.9 542.3,292.2 543.9,293.4 545.5,294.8 547.1,296.1 548.7,297.4 550.2,298.8 551.8,300.2 553.4,301.6 555.0,303.0 556.6,304.5 558.2,306.0 559.8,307.5 561.4,309.0 563.0,310.6 564.5,312.2 566.1,313.8 567.7,315.4 569.3,317.0 570.9,318.7 572.5,320.4 573.9,321.9 575.2,323.4 576.6,324.9 577.9,326.4 579.3,328.0 580.6,329.6 582.0,331.2 583.4,332.8 584.7,334.4 586.1,336.1 587.5,337.7 588.8,339.4 590.2,341.1 591.5,342.9 592.9,344.6 594.3,346.4 595.6,348.2 597.0,350.0 598.4,351.8 599.7,353.7 601.1,355.6 602.4,357.5 603.8,359.4 605.1,361.3 606.5,363.3 607.6,364.9 608.8,366.6 609.9,368.3 611.0,370.0 612.2,371.7 613.3,373.5 614.5,375.2 615.6,377.0 616.7,378.8 617.9,380.6 619.0,382.4 620.1,384.2 621.3,386.1 622.4,387.9 623.5,389.8 624.7,391.7 625.8,393.6 626.9,395.5 628.1,397.5 629.2,399.5 630.3,401.4 631.5,403.4 632.6,405.5 633.7,407.5 634.9,409.6 636.0,411.6 637.1,413.8 638.3,415.9 639.4,418.0 640.5,420.1 641.7,422.3 642.8,424.5 643.9,426.7 644.9,428.5 645.8,430.3 646.7,432.1 647.6,434.0 648.5,435.8 649.4,437.7 650.3,439.5 651.2,441.4 652.1,443.3 653.0,445.2 653.9,447.2 654.8,449.1 655.7,451.1 656.6,453.0 657.6,455.0 658.5,457.0 659.4,459.1 660.3,461.1 661.2,463.1 662.1,465.2 663.0,467.3 663.9,469.4 664.8,471.5 665.7,473.6 666.6,475.8 667.5,477.9 668.4,480.1 669.4,482.3 670.3,484.5 671.2,486.8 672.1,489.0 673.0,491.3 673.9,493.6 674.8,495.9 675.7,498.2 676.6,500.5 677.5,502.9 678.4,505.3 679.3,507.7 680.2,510.1 681.1,512.5 682.1,515.0 683.0,517.5 683.9,519.9 684.8,522.5 685.5,524.4 686.1,526.2 686.8,528.2 687.5,530.1 688.2,532.0 688.9,534.0 689.5,536.0 690.2,537.9 690.9,539.9 691.6,541.9 692.3,544.0 692.9,546.0 693.6,548.0 694.3,550.0 695.0,552.1 695.7,554.2 696.4,556.3 697.0,558.4 697.7,560.5 698.4,562.6 699.1,564.7 699.8,566.9 700.4,569.0 701.1,571.2 701.8,573.4 702.5,575.6 703.1,577.8 703.8,579.9 704.5,582.1 705.2,584.3 705.9,586.4" stroke="#0000ff" stroke-width="3.1" stroke-dasharray="7.4 9.47" stroke-linecap="round" stroke-dashoffset="-7.9"/>
</g>
<path d="M113.32,8.39 L113.32,7.78 L113.94,6.55 L114.55,5.94 L115.77,5.33 L118.23,5.33 L119.45,5.94 L120.06,6.55 L120.68,7.78 L120.68,9.01 L120.06,10.23 L118.84,12.07 L112.71,18.20 L121.29,18.20 M102.59,12.93 L100.75,13.54 L99.52,15.38 L98.91,18.44 L98.91,20.28 L99.52,23.35 L100.75,25.19 L102.59,25.80 L103.81,25.80 L105.65,25.19 L106.88,23.35 L107.49,20.28 L107.49,18.44 L106.88,15.38 L105.65,13.54 L103.81,12.93 L102.59,12.93 M90.34,15.38 L91.56,14.77 L93.40,12.93 L93.40,25.80 M117.94,119.92 L119.16,119.31 L121.00,117.47 L121.00,130.34 M106.49,125.07 L104.65,125.68 L103.42,127.52 L102.81,130.58 L102.81,132.42 L103.42,135.49 L104.65,137.33 L106.49,137.94 L107.71,137.94 L109.55,137.33 L110.78,135.49 L111.39,132.42 L111.39,130.58 L110.78,127.52 L109.55,125.68 L107.71,125.07 L106.49,125.07 M94.23,127.52 L95.46,126.91 L97.30,125.07 L97.30,137.94 M116.39,229.61 L114.55,230.22 L113.32,232.06 L112.71,235.12 L112.71,236.96 L113.32,240.03 L114.55,241.87 L116.39,242.48 L117.61,242.48 L119.45,241.87 L120.68,240.03 L121.29,236.96 L121.29,235.12 L120.68,232.06 L119.45,230.22 L117.61,229.61 L116.39,229.61 M102.59,237.21 L100.75,237.82 L99.52,239.66 L98.91,242.72 L98.91,244.56 L99.52,247.63 L100.75,249.47 L102.59,250.08 L103.81,250.08 L105.65,249.47 L106.88,247.63 L107.49,244.56 L107.49,242.72 L106.88,239.66 L105.65,237.82 L103.81,237.21 L102.59,237.21 M90.34,239.66 L91.56,239.05 L93.40,237.21 L93.40,250.08 M100.80,348.82 H111.20 M117.94,344.20 L119.16,343.59 L121.00,341.75 L121.00,354.62 M90.19,349.35 L88.35,349.96 L87.12,351.80 L86.51,354.86 L86.51,356.70 L87.12,359.77 L88.35,361.61 L90.19,362.22 L91.41,362.22 L93.25,361.61 L94.48,359.77 L95.09,356.70 L95.09,354.86 L94.48,351.80 L93.25,349.96 L91.41,349.35 L90.19,349.35 M77.94,351.80 L79.16,351.19 L81.00,349.35 L81.00,362.22 M97.30,460.96 H107.70 M113.32,456.95 L113.32,456.34 L113.94,455.11 L114.55,454.50 L115.77,453.89 L118.23,453.89 L119.45,454.50 L120.06,455.11 L120.68,456.34 L120.68,457.57 L120.06,458.79 L118.84,460.63 L112.71,466.76 L121.29,466.76 M86.69,461.49 L84.85,462.10 L83.62,463.94 L83.01,467.00 L83.01,468.84 L83.62,471.91 L84.85,473.75 L86.69,474.36 L87.91,474.36 L89.75,473.75 L90.98,471.91 L91.59,468.84 L91.59,467.00 L90.98,463.94 L89.75,462.10 L87.91,461.49 L86.69,461.49 M74.44,463.94 L75.66,463.33 L77.50,461.49 L77.50,474.36 M97.30,573.10 H107.70 M113.94,566.03 L120.68,566.03 L117.00,570.93 L118.84,570.93 L120.06,571.54 L120.68,572.16 L121.29,574.00 L121.29,575.22 L120.68,577.06 L119.45,578.29 L117.61,578.90 L115.77,578.90 L113.94,578.29 L113.32,577.67 L112.71,576.45 M86.69,573.63 L84.85,574.24 L83.62,576.08 L83.01,579.14 L83.01,580.98 L83.62,584.05 L84.85,585.89 L86.69,586.50 L87.91,586.50 L89.75,585.89 L90.98,584.05 L91.59,580.98 L91.59,579.14 L90.98,576.08 L89.75,574.24 L87.91,573.63 L86.69,573.63 M74.44,576.08 L75.66,575.47 L77.50,573.63 L77.50,586.50 M136.50,591.20 H146.90 M152.52,587.19 L152.52,586.58 L153.13,585.35 L153.75,584.74 L154.97,584.13 L157.43,584.13 L158.65,584.74 L159.26,585.35 L159.88,586.58 L159.88,587.80 L159.26,589.03 L158.04,590.87 L151.91,597.00 L160.49,597.00 M125.89,591.73 L124.05,592.34 L122.82,594.18 L122.21,597.24 L122.21,599.08 L122.82,602.15 L124.05,603.99 L125.89,604.60 L127.11,604.60 L128.95,603.99 L130.18,602.15 L130.79,599.08 L130.79,597.24 L130.18,594.18 L128.95,592.34 L127.11,591.73 L125.89,591.73 M113.63,594.18 L114.86,593.57 L116.70,591.73 L116.70,604.60 M272.76,591.20 H283.16 M289.89,586.58 L291.12,585.97 L292.96,584.13 L292.96,597.00 M262.15,591.73 L260.31,592.34 L259.08,594.18 L258.47,597.24 L258.47,599.08 L259.08,602.15 L260.31,603.99 L262.15,604.60 L263.37,604.60 L265.21,603.99 L266.44,602.15 L267.05,599.08 L267.05,597.24 L266.44,594.18 L265.21,592.34 L263.37,591.73 L262.15,591.73 M249.89,594.18 L251.12,593.57 L252.96,591.73 L252.96,604.60 M417.14,584.13 L415.30,584.74 L414.07,586.58 L413.46,589.64 L413.46,591.48 L414.07,594.55 L415.30,596.39 L417.14,597.00 L418.36,597.00 L420.20,596.39 L421.43,594.55 L422.04,591.48 L422.04,589.64 L421.43,586.58 L420.20,584.74 L418.36,584.13 L417.14,584.13 M403.34,591.73 L401.50,592.34 L400.27,594.18 L399.66,597.24 L399.66,599.08 L400.27,602.15 L401.50,603.99 L403.34,604.60 L404.56,604.60 L406.40,603.99 L407.63,602.15 L408.24,599.08 L408.24,597.24 L407.63,594.18 L406.40,592.34 L404.56,591.73 L403.34,591.73 M391.08,594.18 L392.31,593.57 L394.15,591.73 L394.15,604.60 M550.89,586.58 L552.12,585.97 L553.96,584.13 L553.96,597.00 M539.45,591.73 L537.61,592.34 L536.38,594.18 L535.77,597.24 L535.77,599.08 L536.38,602.15 L537.61,603.99 L539.45,604.60 L540.67,604.60 L542.51,603.99 L543.74,602.15 L544.35,599.08 L544.35,597.24 L543.74,594.18 L542.51,592.34 L540.67,591.73 L539.45,591.73 M527.20,594.18 L528.42,593.57 L530.26,591.73 L530.26,604.60 M682.87,587.19 L682.87,586.58 L683.48,585.35 L684.10,584.74 L685.32,584.13 L687.78,584.13 L689.00,584.74 L689.62,585.35 L690.23,586.58 L690.23,587.80 L689.62,589.03 L688.39,590.87 L682.26,597.00 L690.84,597.00 M672.14,591.73 L670.30,592.34 L669.07,594.18 L668.46,597.24 L668.46,599.08 L669.07,602.15 L670.30,603.99 L672.14,604.60 L673.36,604.60 L675.20,603.99 L676.43,602.15 L677.04,599.08 L677.04,597.24 L676.43,594.18 L675.20,592.34 L673.36,591.73 L672.14,591.73 M659.88,594.18 L661.11,593.57 L662.95,591.73 L662.95,604.60 M818.23,584.13 L824.98,584.13 L821.30,589.03 L823.14,589.03 L824.37,589.64 L824.98,590.26 L825.59,592.10 L825.59,593.32 L824.98,595.16 L823.75,596.39 L821.91,597.00 L820.07,597.00 L818.23,596.39 L817.62,595.77 L817.01,594.55 M806.89,591.73 L805.05,592.34 L803.82,594.18 L803.21,597.24 L803.21,599.08 L803.82,602.15 L805.05,603.99 L806.89,604.60 L808.11,604.60 L809.95,603.99 L811.18,602.15 L811.79,599.08 L811.79,597.24 L811.18,594.18 L809.95,592.34 L808.11,591.73 L806.89,591.73 M794.63,594.18 L795.86,593.57 L797.70,591.73 L797.70,604.60" fill="none" stroke="#000" stroke-width="2.7" stroke-linecap="round" stroke-linejoin="round"/>
<path d="M430.47,621.36 L430.47,637.00 M430.47,621.36 L439.41,621.36 M430.47,628.80 L435.69,628.80 M430.47,637.00 L439.41,637.00 M460.26,618.38 L460.26,642.22 M461.01,618.38 L461.01,642.22 M460.26,618.38 L465.48,618.38 M460.26,642.22 L465.48,642.22 M480.41,625.08 L479.66,623.59 L478.18,622.10 L476.69,621.36 L473.70,621.36 L472.21,622.10 L470.72,623.59 L469.98,625.08 L469.24,627.32 L469.24,631.04 L469.98,633.27 L470.72,634.76 L472.21,636.25 L473.70,637.00 L476.69,637.00 L478.18,636.25 L479.66,634.76 L480.41,633.27 L480.41,631.04 M476.69,631.04 L480.41,631.04 M487.53,631.04 L496.47,631.04 L496.47,629.55 L495.73,628.06 L494.98,627.32 L493.49,626.57 L491.25,626.57 L489.76,627.32 L488.27,628.80 L487.53,631.04 L487.53,632.53 L488.27,634.76 L489.76,636.25 L491.25,637.00 L493.49,637.00 L494.98,636.25 L496.47,634.76 M502.24,621.36 L508.20,637.00 M514.16,621.36 L508.20,637.00 M526.24,618.38 L526.24,642.22 M526.99,618.38 L526.99,642.22 M521.77,618.38 L526.99,618.38 M521.77,642.22 L526.99,642.22 M19.95,417.78 L19.29,416.76 L19.22,414.00 L29.40,415.89 M29.40,415.89 L28.38,412.11 L26.20,409.64 L23.08,407.60 L19.37,406.58 M14.13,401.46 L29.40,401.46 M29.40,401.46 L29.40,392.74 M11.22,359.98 L34.49,359.98 M11.22,359.25 L34.49,359.25 M11.22,359.98 L11.22,354.89 M34.49,359.98 L34.49,354.89 M17.04,348.86 L16.31,347.40 L14.13,345.22 L29.40,345.22 M14.13,333.83 L14.86,336.01 L17.04,337.46 L20.68,338.19 L22.86,338.19 L26.49,337.46 L28.67,336.01 L29.40,333.83 L29.40,332.37 L28.67,330.19 L26.49,328.74 L22.86,328.01 L20.68,328.01 L17.04,328.74 L14.86,330.19 L14.13,332.37 L14.13,333.83 M23.58,283.46 L23.58,274.74 L22.13,274.74 L20.68,275.47 L19.95,276.19 L19.22,277.65 L19.22,279.83 L19.95,281.28 L21.40,282.74 L23.58,283.46 L25.04,283.46 L27.22,282.74 L28.67,281.28 L29.40,279.83 L29.40,277.65 L28.67,276.19 L27.22,274.74 M19.22,267.08 L29.40,267.08 M23.58,267.08 L21.40,266.35 L19.95,264.90 L19.22,263.45 L19.22,261.26 M19.22,244.49 L30.85,244.49 L33.03,245.22 L33.76,245.94 L34.49,247.40 L34.49,249.58 L33.76,251.03 M21.40,244.49 L19.95,245.94 L19.22,247.40 L19.22,249.58 L19.95,251.03 L21.40,252.48 L23.58,253.21 L25.04,253.21 L27.22,252.48 L28.67,251.03 L29.40,249.58 L29.40,247.40 L28.67,245.94 L27.22,244.49 M21.40,219.04 L19.95,219.77 L19.22,221.95 L19.22,224.13 L19.95,226.31 L21.40,227.03 L22.86,226.31 L23.58,224.85 L24.31,221.22 L25.04,219.77 L26.49,219.04 L27.22,219.04 L28.67,219.77 L29.40,221.95 L29.40,224.13 L28.67,226.31 L27.22,227.03 M11.22,180.45 L34.49,180.45 M11.22,179.72 L34.49,179.72 M11.22,184.81 L11.22,179.72 M34.49,184.81 L34.49,179.72 M29.23,385.83 L28.78,385.12 L28.73,383.20 L35.80,384.51 M35.80,384.51 L35.09,381.89 L33.58,380.17 L31.41,378.76 L28.83,378.05 M7.24,320.62 L7.24,315.07 L11.28,318.10 L11.28,316.59 L11.79,315.58 L12.29,315.07 L13.81,314.56 L14.82,314.56 L16.33,315.07 L17.34,316.08 L17.85,317.60 L17.85,319.11 L17.34,320.62 L16.84,321.13 L15.83,321.64 M7.24,303.78 L7.24,308.82 L11.79,309.33 L11.28,308.82 L10.78,307.31 L10.78,305.80 L11.28,304.28 L12.29,303.27 L13.81,302.76 L14.82,302.76 L16.33,303.27 L17.34,304.28 L17.85,305.80 L17.85,307.31 L17.34,308.82 L16.84,309.33 L15.83,309.84 M9.26,195.22 L8.76,194.21 L7.24,192.69 L17.85,192.69 M11.9,208.3 V199.0" fill="none" stroke="#000" stroke-width="2.7" stroke-linecap="round" stroke-linejoin="round"/>
</svg></body></html>
